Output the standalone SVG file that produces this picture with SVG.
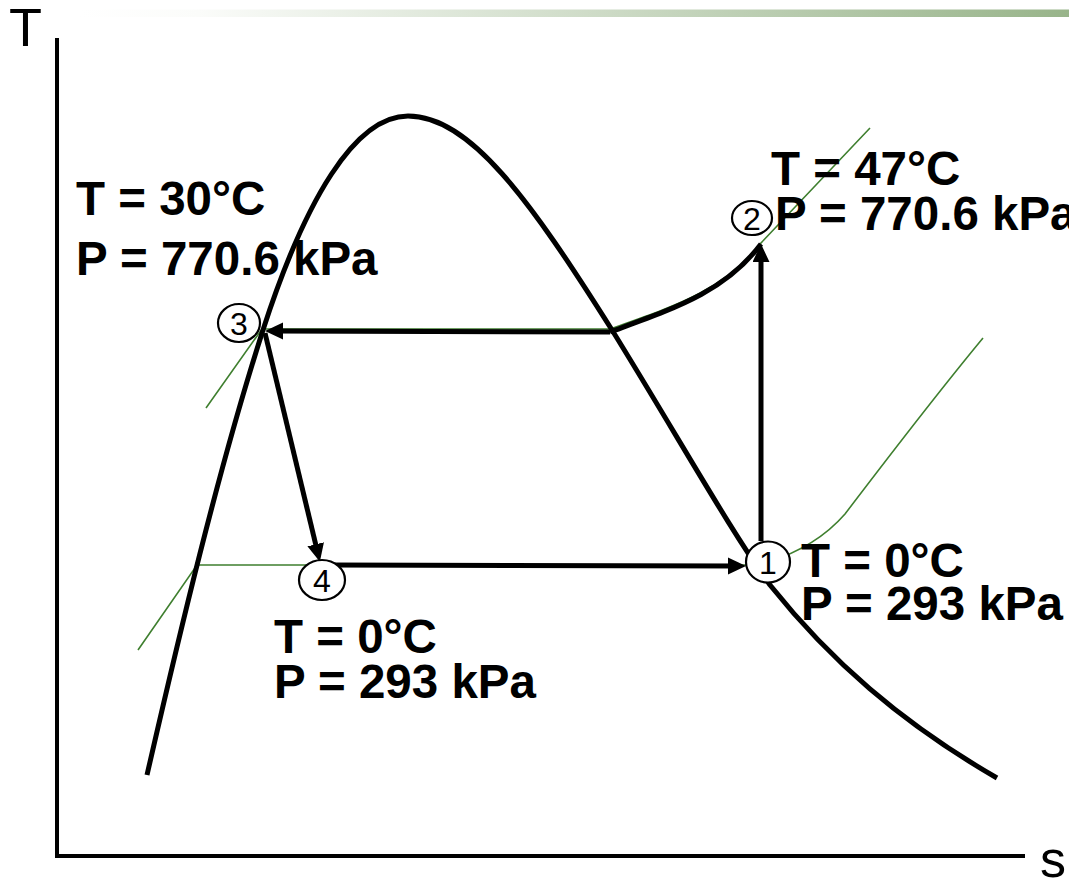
<svg xmlns="http://www.w3.org/2000/svg" width="1069" height="880" viewBox="0 0 1069 880">
  <defs>
    <linearGradient id="bar" x1="0" y1="0" x2="1" y2="0">
      <stop offset="0" stop-color="#ffffff"/>
      <stop offset="0.12" stop-color="#fbfcfa"/>
      <stop offset="1" stop-color="#98b48a"/>
    </linearGradient>
    <marker id="ah" markerUnits="userSpaceOnUse" markerWidth="20" markerHeight="18" refX="10" refY="8.5" orient="auto">
      <path d="M0,0 L18,8.5 L0,17 z" fill="#000"/>
    </marker>
    <style>
      .lbl { font-family: "Liberation Sans", Arial, sans-serif; font-weight: bold; font-size: 47.5px; fill: #000; }
      .ax { font-family: "Liberation Sans", Arial, sans-serif; fill: #000; }
      .num { font-family: "Liberation Sans", Arial, sans-serif; font-size: 32px; fill: #000; text-anchor: middle; }
      .pt { fill: #fff; stroke: #000; stroke-width: 2.2; }
      .blk { fill: none; stroke: #000; stroke-width: 5; }
      .grn { fill: none; stroke: #3f7f2f; stroke-width: 1.6; }
      .arr { fill: none; stroke: #000; stroke-width: 5; marker-end: url(#ah); }
    </style>
  </defs>
  <rect width="1069" height="880" fill="#fff"/>
  <rect x="80" y="9.5" width="989" height="7.5" fill="url(#bar)"/>

  <g id="axes">
    <path d="M57,38 L57,856 L1025,856" fill="none" stroke="#000" stroke-width="4"/>
    <text class="ax" x="9" y="46" font-size="54">T</text>
    <text class="ax" x="1040" y="877" font-size="52">s</text>
  </g>

  <g id="isobars">
    <path class="grn" d="M206,408 L262,329 L610,329 C675,306 725,290 761,243 L870,128"/>
    <path class="grn" d="M138,650 L197,565 L768,565"/>
    <path class="grn" d="M768,562 C800,552 825,537 845,514 C880,468 940,390 983,338"/>
  </g>

  <g id="dome">
    <path class="blk" d="M147,775 C178,640 218,470 263,330 C305,200 355,116 408,116 C470,116 530,200 612,330 C680,440 730,530 770,585 C830,660 900,722 997,778"/>
  </g>

  <g id="connectors">
    <path class="blk" d="M610,332 C675,308 725,292 761,244"/>
    <line class="arr" x1="610" y1="332" x2="273" y2="331"/>
    <line class="arr" x1="761" y1="541" x2="761" y2="252"/>
    <line class="arr" x1="265" y1="333" x2="318" y2="554"/>
    <line class="arr" x1="330" y1="565" x2="738" y2="566"/>
  </g>

  <g id="state1">
    <ellipse class="pt" cx="768" cy="562" rx="22" ry="20.5"/>
    <text class="num" x="768" y="574">1</text>
    <text class="lbl" x="801" y="577">T = 0°C</text>
    <text class="lbl" x="801" y="620">P = 293 kPa</text>
  </g>
  <g id="state2">
    <ellipse class="pt" cx="752" cy="218" rx="20" ry="17"/>
    <text class="num" x="752" y="230">2</text>
    <text class="lbl" x="771" y="185">T = 47°C</text>
    <text class="lbl" x="775" y="230">P = 770.6 kPa</text>
  </g>
  <g id="state3">
    <ellipse class="pt" cx="239" cy="323" rx="21" ry="19"/>
    <text class="num" x="239" y="335">3</text>
    <text class="lbl" x="76" y="215">T = 30°C</text>
    <text class="lbl" x="76" y="275">P = 770.6 kPa</text>
  </g>
  <g id="state4">
    <ellipse class="pt" cx="322" cy="580" rx="23" ry="20"/>
    <text class="num" x="322" y="592">4</text>
    <text class="lbl" x="274" y="653">T = 0°C</text>
    <text class="lbl" x="274" y="698">P = 293 kPa</text>
  </g>
</svg>
